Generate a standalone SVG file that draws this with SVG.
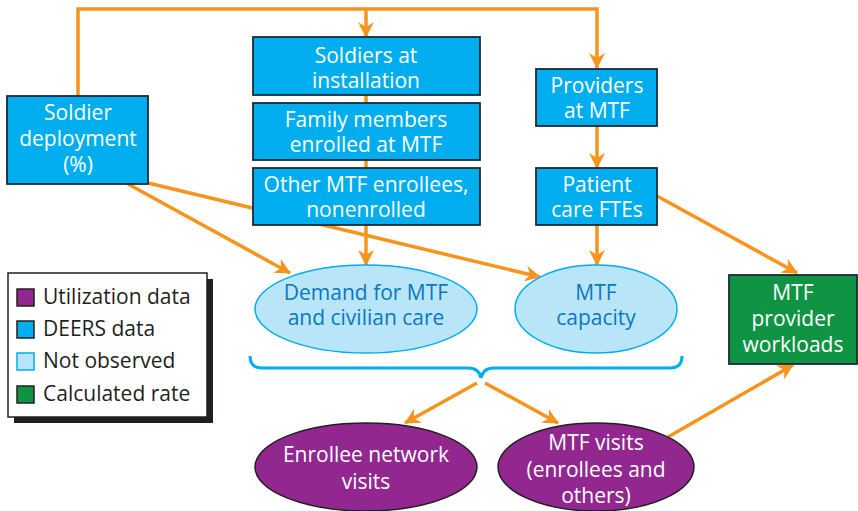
<svg xmlns="http://www.w3.org/2000/svg" width="858" height="511" viewBox="0 0 858 511">
<defs>
<marker id="ah" markerUnits="userSpaceOnUse" markerWidth="18" markerHeight="18" refX="15" refY="8" orient="auto">
<path d="M0,0 L16,8 L0,16 L5,8 z" fill="#f7941d"/>
</marker>
<style>
.c{fill:none;stroke:#f7941d;stroke-width:3.5}
.a{marker-end:url(#ah)}
.box{fill:#00aeef;stroke:#1b2a38;stroke-width:1.8}
.t{font-family:"Open Sans","Liberation Sans",sans-serif;font-size:21px;text-anchor:middle;fill:#fff}
.tb{fill:#0a78bf}
.lt{font-family:"Open Sans","Liberation Sans",sans-serif;font-size:21px;fill:#231f20}
.nob{fill:#b9e5f8;stroke:#00aeef;stroke-width:1.5}
.pur{fill:#92278f;stroke:#231f20;stroke-width:1.5}
.sw{stroke:#231f20;stroke-width:1.5}
</style>
</defs>
<g id="connectors">
<path class="c" d="M78,96 V9 H597 V68" marker-end="url(#ah)"/>
<path class="c a" d="M366,9 V37"/>
<path class="c" d="M366,95 V103 M366,160 V168"/>
<path class="c a" d="M366,225 V265"/>
<path class="c a" d="M597,126 V168"/>
<path class="c a" d="M597,225 V265"/>
<path class="c a" d="M128,184 L290,273"/>
<path class="c a" d="M148,183 L540,277"/>
<path class="c a" d="M657,196 L797,273"/>
<path class="c a" d="M477,383 L405,423"/>
<path class="c a" d="M485,383 L558,423"/>
<path class="c a" d="M668,437 L793,365"/>
<path d="M250,356 Q250,368 262,368 H468 Q479,368 481,378 Q483,368 494,368 H670 Q682,368 682,356" fill="none" stroke="#00aeef" stroke-width="3"/>
</g>
<g id="soldier-deployment">
<rect class="box" x="7" y="96" width="141" height="88"/>
<text class="t" x="78" y="120">Soldier</text>
<text class="t" x="78" y="146">deployment</text>
<text class="t" x="78" y="172">(%)</text>
</g>
<g id="soldiers-installation">
<rect class="box" x="253" y="37" width="227" height="58"/>
<text class="t" x="366" y="63">Soldiers at</text>
<text class="t" x="366" y="88">installation</text>
</g>
<g id="family-members">
<rect class="box" x="253" y="103" width="227" height="57"/>
<text class="t" x="366" y="127">Family members</text>
<text class="t" x="366" y="152">enrolled at MTF</text>
</g>
<g id="other-enrollees">
<rect class="box" x="253" y="168" width="227" height="57"/>
<text class="t" x="366" y="192">Other MTF enrollees,</text>
<text class="t" x="366" y="217">nonenrolled</text>
</g>
<g id="providers">
<rect class="box" x="536" y="69" width="121" height="57"/>
<text class="t" x="597" y="93">Providers</text>
<text class="t" x="597" y="118">at MTF</text>
</g>
<g id="patient-care">
<rect class="box" x="536" y="168" width="121" height="57"/>
<text class="t" x="597" y="192">Patient</text>
<text class="t" x="597" y="217">care FTEs</text>
</g>
<g id="demand">
<ellipse class="nob" cx="366" cy="309" rx="111" ry="44"/>
<text class="t tb" x="366" y="300">Demand for MTF</text>
<text class="t tb" x="366" y="325">and civilian care</text>
</g>
<g id="capacity">
<ellipse class="nob" cx="596" cy="309" rx="81" ry="44"/>
<text class="t tb" x="596" y="300">MTF</text>
<text class="t tb" x="596" y="325">capacity</text>
</g>
<g id="workloads">
<rect x="729" y="275" width="128" height="89" fill="#0f9444" stroke="#1b2a38" stroke-width="1.8"/>
<text class="t" x="793" y="300">MTF</text>
<text class="t" x="793" y="326">provider</text>
<text class="t" x="793" y="352">workloads</text>
</g>
<g id="network-visits">
<ellipse class="pur" cx="366" cy="467" rx="111" ry="44"/>
<text class="t" x="366" y="462">Enrollee network</text>
<text class="t" x="366" y="489">visits</text>
</g>
<g id="mtf-visits">
<ellipse class="pur" cx="596" cy="467" rx="98" ry="44"/>
<text class="t" x="596" y="450">MTF visits</text>
<text class="t" x="596" y="477">(enrollees and</text>
<text class="t" x="596" y="503">others)</text>
</g>
<g id="legend">
<rect x="14" y="279" width="199" height="144" fill="#231f20"/>
<rect x="8" y="273" width="199" height="144" fill="#fff" stroke="#231f20" stroke-width="1.5"/>
<rect class="sw" x="17" y="289" width="17" height="17" fill="#92278f"/>
<text class="lt" x="43" y="304">Utilization data</text>
<rect class="sw" x="17" y="321" width="17" height="17" fill="#00aeef"/>
<text class="lt" x="43" y="336">DEERS data</text>
<rect x="17" y="353" width="17" height="17" fill="#b9e5f8" stroke="#00aeef" stroke-width="1.5"/>
<text class="lt" x="43" y="368">Not observed</text>
<rect class="sw" x="17" y="386" width="17" height="17" fill="#0f9444"/>
<text class="lt" x="43" y="401">Calculated rate</text>
</g>
</svg>
